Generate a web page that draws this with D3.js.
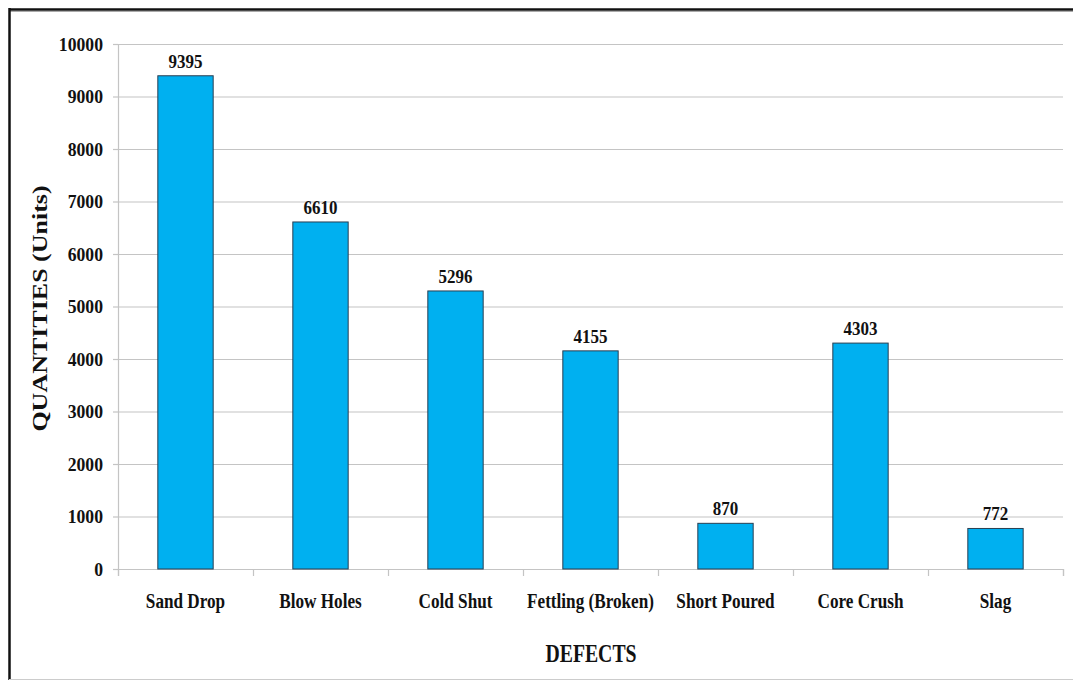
<!DOCTYPE html>
<html>
<head>
<meta charset="utf-8">
<script src="https://cdn.jsdelivr.net/npm/d3@7"></script>
<style>
  html, body { margin: 0; padding: 0; background: #fff; }
  svg { display: block; font-family: "Liberation Serif", "Times New Roman", serif; font-weight: bold; }
</style>
</head>
<body>
<div id="chart"></div>
<script>
const categories = ['Sand Drop', 'Blow Holes', 'Cold Shut', 'Fettling (Broken)', 'Short Poured', 'Core Crush', 'Slag'];
const quantities = [9395, 6610, 5296, 4155, 870, 4303, 772];
const yTicks = [0, 1000, 2000, 3000, 4000, 5000, 6000, 7000, 8000, 9000, 10000];

const W = 1073, H = 680;
const margin = { top: 44, right: 10, bottom: 111, left: 118 };
const innerW = 1063 - margin.left;
const innerH = 569 - margin.top;
const GRID = '#c4c4c4';

// the original text is a narrow bold Times; squeeze it horizontally
const squeeze = (px, py, sx) => `translate(${px},${py}) scale(${sx},1)`;

const svg = d3.select('#chart').append('svg')
  .attr('width', W)
  .attr('height', H);

// frame (cropped on the right)
svg.append('line').attr('x1', 9).attr('x2', W).attr('y1', 9.5).attr('y2', 9.5)
  .attr('stroke', '#111').attr('stroke-width', 2.5);
svg.append('line').attr('x1', 9).attr('x2', W).attr('y1', 11.5).attr('y2', 11.5)
  .attr('stroke', '#aaa').attr('stroke-width', 1);
svg.append('line').attr('x1', 9.5).attr('x2', 9.5).attr('y1', 8).attr('y2', H)
  .attr('stroke', '#111').attr('stroke-width', 2.5);
svg.append('line').attr('x1', 9).attr('x2', W).attr('y1', 679.5).attr('y2', 679.5)
  .attr('stroke', '#ccc').attr('stroke-width', 1);

const g = svg.append('g').attr('transform', `translate(${margin.left},${margin.top})`);

const x = d3.scaleBand().domain(categories).range([0, innerW]).paddingInner(0.59).paddingOuter(0.295);
const xEdges = d3.scaleLinear().domain([0, categories.length]).range([0, innerW]);
const y = d3.scaleLinear().domain([0, 10000]).range([innerH, 0]);

// gridlines + y labels
g.append('g')
  .call(d3.axisLeft(y).tickValues(yTicks).tickSize(-innerW).tickFormat(d3.format('d')))
  .call(ax => ax.select('.domain').remove())
  .call(ax => ax.selectAll('.tick line').attr('stroke', GRID).attr('stroke-width', 1.2))
  .call(ax => ax.selectAll('.tick text')
    .attr('x', null)
    .attr('transform', squeeze(-15, 0, 0.93))
    .attr('fill', '#111').attr('font-size', 19).attr('font-weight', 'bold')
    .attr('font-family', '"Liberation Serif", serif'));

// small outer ticks on y axis
g.append('g')
  .call(d3.axisLeft(y).tickValues(yTicks).tickSize(5).tickFormat(''))
  .call(ax => ax.select('.domain').attr('stroke', GRID).attr('stroke-width', 1.2))
  .call(ax => ax.selectAll('.tick line').attr('stroke', GRID).attr('stroke-width', 1.2));

// x axis line and category boundary ticks
g.append('g')
  .attr('transform', `translate(0,${innerH})`)
  .call(d3.axisBottom(xEdges).tickValues(d3.range(categories.length + 1)).tickSize(7).tickFormat(''))
  .call(ax => ax.select('.domain').attr('stroke', GRID).attr('stroke-width', 1.2))
  .call(ax => ax.selectAll('.tick line').attr('stroke', GRID).attr('stroke-width', 1.2));

// bars
g.selectAll('.bar')
  .data(categories)
  .join('rect')
  .attr('class', 'bar')
  .attr('x', d => x(d))
  .attr('y', (d, i) => y(quantities[i]))
  .attr('width', x.bandwidth())
  .attr('height', (d, i) => innerH - y(quantities[i]))
  .attr('fill', '#00b0f0')
  .attr('stroke', '#2a3f52')
  .attr('stroke-width', 1);

// value labels
g.selectAll('.val')
  .data(categories)
  .join('text')
  .attr('class', 'val')
  .attr('transform', (d, i) => squeeze(x(d) + x.bandwidth() / 2, y(quantities[i]) - 8, 0.92))
  .attr('text-anchor', 'middle')
  .attr('font-size', 18.5)
  .attr('fill', '#111')
  .text((d, i) => quantities[i]);

// category labels
g.selectAll('.cat')
  .data(categories)
  .join('text')
  .attr('class', 'cat')
  .attr('transform', d => squeeze(x(d) + x.bandwidth() / 2, innerH + 38.5, 0.78))
  .attr('text-anchor', 'middle')
  .attr('font-size', 22)
  .attr('fill', '#111')
  .text(d => d);

// axis titles
svg.append('text')
  .attr('transform', squeeze(591, 662, 0.79))
  .attr('text-anchor', 'middle')
  .attr('font-size', 25)
  .attr('fill', '#111')
  .text('DEFECTS');

svg.append('text')
  .attr('transform', 'translate(47,308.5) scale(0.8,1) rotate(-90)')
  .attr('text-anchor', 'middle')
  .attr('font-size', 26)
  .attr('fill', '#111')
  .text('QUANTITIES (Units)');
</script>
</body>
</html>
